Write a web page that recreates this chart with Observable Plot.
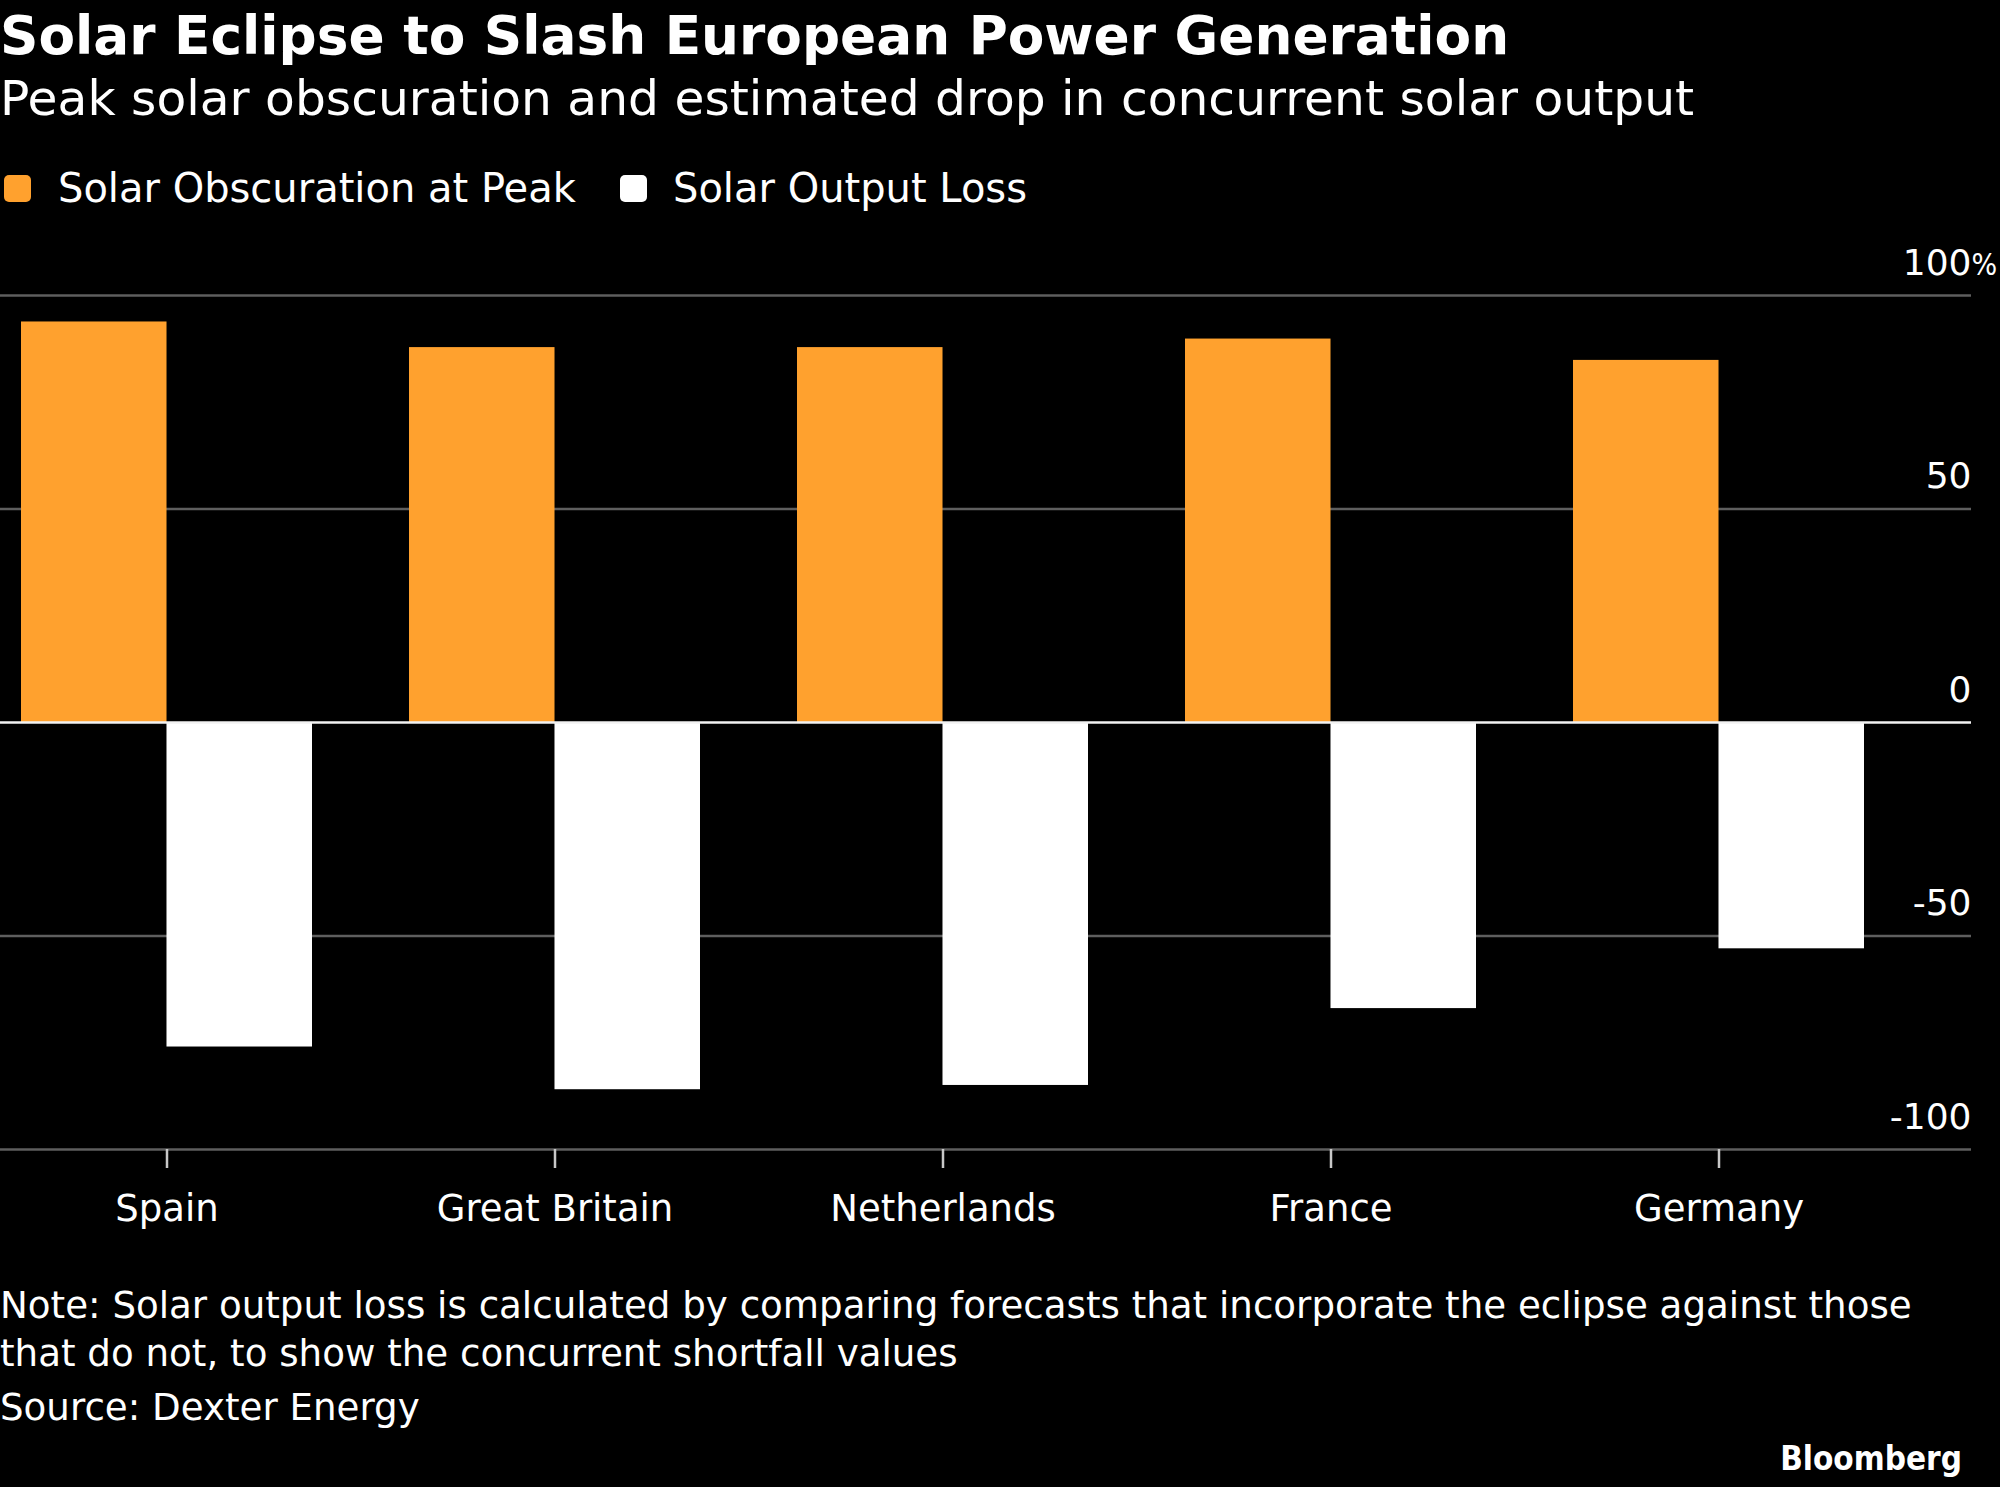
<!DOCTYPE html>
<html>
<head>
<meta charset="utf-8">
<script src="https://cdn.jsdelivr.net/npm/d3@7"></script>
<script src="https://cdn.jsdelivr.net/npm/@observablehq/plot@0.6"></script>
<style>
html, body { margin: 0; padding: 0; background: #000; }
#page { position: relative; width: 2000px; height: 1487px; background: #000; color: #fff;
  font-family: "DejaVu Sans", sans-serif; overflow: hidden; }
.t { position: absolute; white-space: nowrap; line-height: 1; margin: 0; }
#title { left: 0; top: 10px; font-size: 53.3px; font-weight: bold; }
#subtitle { left: 0; top: 74px; font-size: 48.7px; }
.sw { position: absolute; width: 27px; height: 27px; border-radius: 5px; top: 175px; }
.lg { font-size: 40px; top: 168px; }
#chart { position: absolute; left: 0; top: 220px; }
.note { font-size: 37.2px; left: 0; }
#brand { font-size: 33px; font-weight: bold; right: 38px; top: 1442px;
  font-family: "DejaVu Sans Condensed", "DejaVu Sans", sans-serif; }
</style>
</head>
<body>
<div id="page">
  <div id="title" class="t"></div>
  <div id="subtitle" class="t"></div>
  <div id="legend"></div>
  <div id="chart"></div>
  <div id="note1" class="t note" style="top:1287px"></div>
  <div id="note2" class="t note" style="top:1335px"></div>
  <div id="source" class="t note" style="top:1389px"></div>
  <div id="brand" class="t"></div>
</div>
<script>
// ---- Data ----
const countries = ["Spain", "Great Britain", "Netherlands", "France", "Germany"];
const obscuration = [93.8, 87.8, 87.8, 89.8, 84.8];
const outputLoss = [-76.0, -86.0, -85.0, -67.0, -53.0];
const seriesNames = ["Solar Obscuration at Peak", "Solar Output Loss"];
const seriesColors = ["#ffa12e", "#ffffff"];
const gridValues = [-100, -50, 50, 100];
const tickValues = [-100, -50, 0, 50, 100];
const tickLabels = ["-100", "-50", "0", "50", "100"];
const unitLabel = "%";

const titleText = "Solar Eclipse to Slash European Power Generation";
const subtitleText = "Peak solar obscuration and estimated drop in concurrent solar output";
const noteLines = [
  "Note: Solar output loss is calculated by comparing forecasts that incorporate the eclipse against those",
  "that do not, to show the concurrent shortfall values"
];
const sourceText = "Source: Dexter Energy";
const brandText = "Bloomberg";

// ---- Text ----
document.getElementById("title").textContent = titleText;
document.getElementById("subtitle").textContent = subtitleText;
document.getElementById("note1").textContent = noteLines[0];
document.getElementById("note2").textContent = noteLines[1];
document.getElementById("source").textContent = sourceText;
document.getElementById("brand").textContent = brandText;

// Legend
const legend = document.getElementById("legend");
const legendX = [[4, 58], [620, 673]];
seriesNames.forEach((name, i) => {
  const sw = document.createElement("div");
  sw.className = "sw";
  sw.style.left = legendX[i][0] + "px";
  sw.style.background = seriesColors[i];
  legend.appendChild(sw);
  const tx = document.createElement("div");
  tx.className = "t lg";
  tx.style.left = legendX[i][1] + "px";
  tx.textContent = name;
  legend.appendChild(tx);
});

// ---- Chart ----
const obsData = countries.map((c, i) => ({country: c, series: seriesNames[0], value: obscuration[i]}));
const lossData = countries.map((c, i) => ({country: c, series: seriesNames[1], value: outputLoss[i]}));

const W = 2000, H = 1020, mL = 0, mR = 29, mT = 75, mB = 91;
const padIn = 0.2512, padOut = 0.1617, alignX = 0.167;
const bw = d3.scaleBand(countries, [mL, W - mR]).paddingInner(padIn).paddingOuter(padOut).align(alignX).bandwidth();

const font = "'DejaVu Sans', sans-serif";
const chart = Plot.plot({
  width: W, height: H,
  marginLeft: mL, marginRight: mR, marginTop: mT, marginBottom: mB,
  style: {background: "transparent", color: "#fff", fontFamily: font, overflow: "visible"},
  x: {domain: countries, paddingInner: padIn, paddingOuter: padOut, align: alignX, axis: null},
  y: {domain: [-100, 100], axis: null},
  marks: [
    Plot.ruleY(gridValues, {stroke: "#5e5e5e", strokeWidth: 2.5}),
    Plot.barY(obsData, {x: "country", y: "value", fill: seriesColors[0], insetRight: bw / 2}),
    Plot.barY(lossData, {x: "country", y: "value", fill: seriesColors[1], insetLeft: bw / 2}),
    Plot.ruleY([0], {stroke: "#f2f2f2", strokeWidth: 2.5}),
    Plot.axisX({label: null, tickSize: 19, tickPadding: 26, stroke: "#c8c8c8", strokeWidth: 2.5, fill: "#fff", fontSize: 37}),
    Plot.text(tickValues, {y: d => d, text: (d, i) => tickLabels[i], frameAnchor: "right", textAnchor: "end",
      lineAnchor: "bottom", dy: -21, fill: "#fff", fontSize: 36}),
    Plot.text([tickValues[tickValues.length - 1]], {y: d => d, text: () => unitLabel, frameAnchor: "right", textAnchor: "start",
      lineAnchor: "bottom", dy: -21, dx: 0, fill: "#fff", fontSize: 30,
      fontFamily: "'DejaVu Sans Condensed', 'DejaVu Sans', sans-serif"})
  ]
});
document.getElementById("chart").appendChild(chart);
</script>
</body>
</html>
